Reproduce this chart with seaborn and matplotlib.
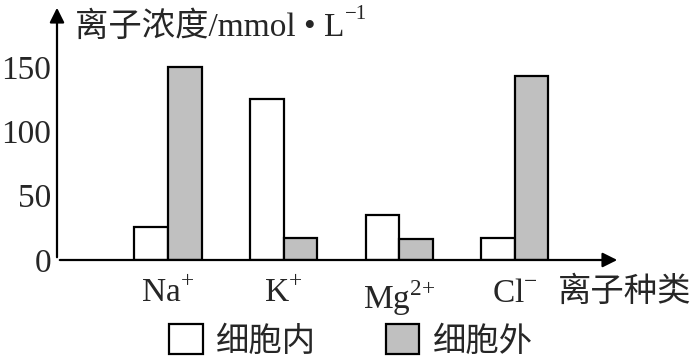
import matplotlib
matplotlib.use("Agg")
import matplotlib.pyplot as plt
import pandas as pd
import seaborn as sns
from matplotlib.patches import Patch

# data
ions = [r"$\mathrm{Na}^{+}$", r"$\mathrm{K}^{+}$", r"$\mathrm{Mg}^{2{+}}$", r"$\mathrm{Cl}^{-}$"]
inside = [26, 125, 35, 17]
outside = [150, 17, 16, 143]
groups = ["细胞内", "细胞外"]
colors = {"细胞内": "white", "细胞外": "#c0c0c0"}
y_ticks = [0, 50, 100, 150]

df = pd.DataFrame({
    "ion": ions * 2,
    "conc": inside + outside,
    "where": [groups[0]] * len(ions) + [groups[1]] * len(ions),
})

sns.set_style("white")
plt.rcParams["font.family"] = ["Liberation Serif", "Noto Sans CJK SC"]
plt.rcParams["mathtext.fontset"] = "custom"
plt.rcParams["mathtext.rm"] = "Liberation Serif"
plt.rcParams["font.size"] = 24

fig = plt.figure(figsize=(7, 3.63), dpi=100)
W, H = 700, 363
ax = fig.add_axes([57 / W, 1 - 260 / H, (620 - 57) / W, (260 - 5) / H])

sns.barplot(data=df, x="ion", y="conc", hue="where", order=ions, hue_order=groups,
            palette=colors, edgecolor="black", linewidth=1.6, width=0.58,
            legend=False, ax=ax)

ax.set_xlim(-0.96, 3.91)
ax.set_ylim(0, 198)
ax.set_xlabel("")
ax.set_ylabel("")
for s in ax.spines.values():
    s.set_visible(False)

ax.set_yticks(y_ticks)
ax.tick_params(axis="y", direction="in", length=5, width=1.5, pad=4, labelsize=24)
ax.tick_params(axis="x", length=0, pad=13, labelsize=24)

# axes with arrowheads
ax.annotate("", xy=(0, 1), xytext=(0, 0), xycoords="axes fraction",
            arrowprops=dict(arrowstyle="-|>", color="black", lw=1.6, mutation_scale=22),
            annotation_clip=False)
ax.annotate("", xy=(1, 0), xytext=(0, 0), xycoords="axes fraction",
            arrowprops=dict(arrowstyle="-|>", color="black", lw=1.6, mutation_scale=22),
            annotation_clip=False)

# y label, with the -1 exponent as a separate small text
ylab = fig.text(75 / W, 1 - 36 / H, "离子浓度/mmol • L", va="baseline", ha="left", fontsize=24)
fig.canvas.draw()
bb = ylab.get_window_extent(renderer=fig.canvas.get_renderer())
fig.text(bb.x1 / W + 1 / W, 1 - 19 / H, "−1", va="baseline", ha="left", fontsize=15)

fig.text(558 / W, 1 - 292 / H, "离子种类", va="center", ha="left", fontsize=24)

handles = [Patch(facecolor=colors[g], edgecolor="black", linewidth=1.6, label=g) for g in groups]
fig.legend(handles=handles, loc="center", bbox_to_anchor=(351 / W, 1 - 341 / H), ncol=2,
           frameon=False, fontsize=24, handlelength=1.0, handleheight=1.0,
           handletextpad=0.4, columnspacing=2.1, borderpad=0, borderaxespad=0)

fig.savefig("out.png", dpi=100)
